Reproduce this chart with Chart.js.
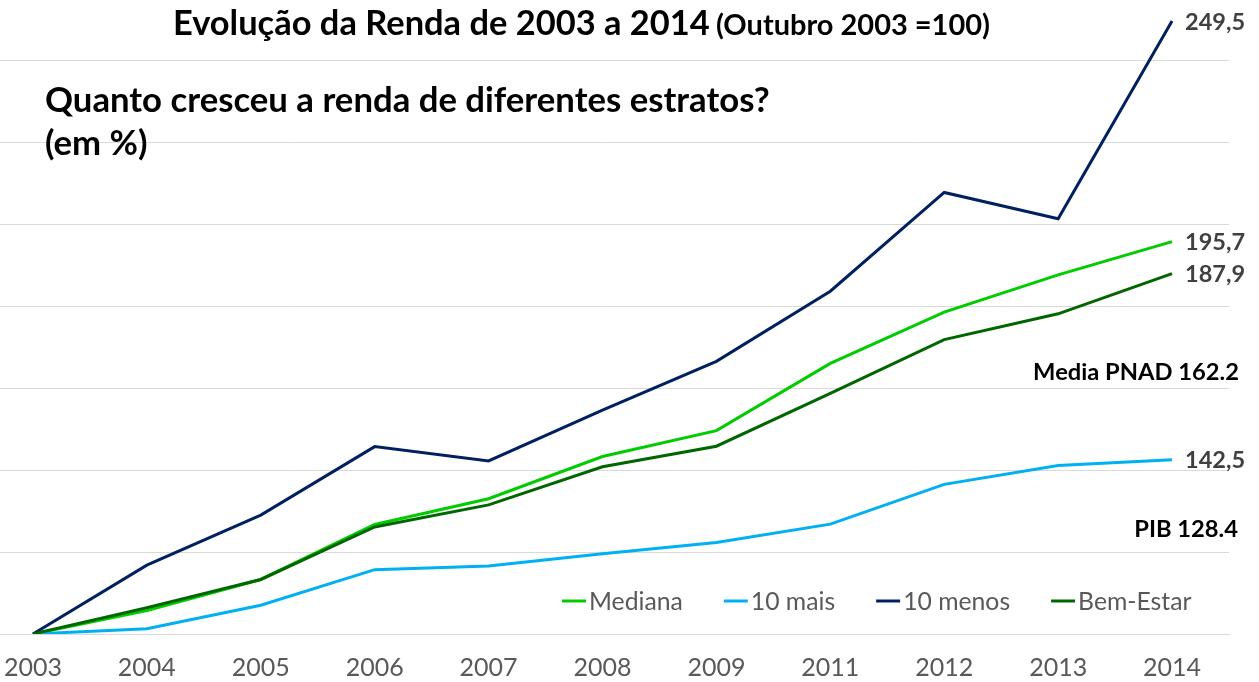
<!DOCTYPE html>
<html>
<head>
<meta charset="utf-8">
<script src="https://cdn.jsdelivr.net/npm/chart.js@4.4.1/dist/chart.umd.min.js"></script>
<style>
  html, body { margin: 0; padding: 0; background: #fff; overflow: hidden; }
  #wrap { position: relative; width: 1259px; height: 682px; overflow: hidden; }
  #wrap canvas { position: absolute; left: -24px; top: -22px; }
</style>
</head>
<body>
<div id="wrap"><canvas id="rendaChart" width="1283" height="716"></canvas></div>
<script>
const anos = ["2003", "2004", "2005", "2006", "2007", "2008", "2009", "2011", "2012", "2013", "2014"];
const mediana = [100, 105.7, 113.3, 126.7, 133.0, 143.3, 149.6, 166.0, 178.5, 187.6, 195.7];
const dezMais = [100, 101.3, 107.0, 115.7, 116.6, 119.6, 122.3, 126.8, 136.5, 141.1, 142.5];
const dezMenos = [100, 116.8, 129.0, 145.7, 142.2, 154.6, 166.5, 183.6, 207.7, 201.3, 249.5];
const bemEstar = [100, 106.4, 113.3, 126.1, 131.5, 140.8, 145.8, 158.7, 171.8, 178.1, 187.9];

const seriesNames = ["Mediana", "10 mais", "10 menos", "Bem-Estar"];
const seriesColors = ["#00CC00", "#00B0F0", "#002060", "#006600"];

const titulo = "Evolução da Renda de 2003 a 2014";
const tituloNota = "(Outubro 2003 =100)";
const pergunta = ["Quanto cresceu a renda de diferentes estratos?", "(em %)"];
const notas = ["Media PNAD 162.2", "PIB 128.4"];

// canvas is shifted so the plot runs past the left/top edges like the original
const SHIFT_X = 24;
const SHIFT_Y = 22;
const FONT = "Lato, 'Open Sans', sans-serif";

// font size that makes text reach a given width
function fitSize(ctx, text, weight, width) {
  ctx.font = weight + " 100px " + FONT;
  return 100 * width / ctx.measureText(text).width;
}

const textosPlugin = {
  id: "textos",
  afterDraw(chart) {
    const ctx = chart.ctx;

    // value labels at the end of each line
    ctx.save();
    ctx.font = "bold 23.5px " + FONT;
    ctx.fillStyle = "#404040";
    ctx.textBaseline = "middle";
    ctx.textAlign = "left";
    chart.data.datasets.forEach((ds, i) => {
      const meta = chart.getDatasetMeta(i);
      const pt = meta.data[meta.data.length - 1];
      const v = ds.data[ds.data.length - 1];
      ctx.fillText(v.toFixed(1).replace(".", ","), pt.x + 13, pt.y + 1);
    });
    ctx.restore();

    ctx.save();
    ctx.translate(SHIFT_X, SHIFT_Y);
    ctx.fillStyle = "#000";
    ctx.textBaseline = "alphabetic";

    // title, big part + smaller note
    const s1 = fitSize(ctx, titulo, "bold", 537);
    const s2 = fitSize(ctx, tituloNota, "bold", 274);
    ctx.font = "bold " + s1 + "px " + FONT;
    ctx.fillText(titulo, 173, 35);
    ctx.font = "bold " + s2 + "px " + FONT;
    ctx.fillText(tituloNota, 716, 35);

    // question on the left
    const s3 = fitSize(ctx, pergunta[0], "bold", 725);
    ctx.font = "bold " + s3 + "px " + FONT;
    ctx.fillText(pergunta[0], 45, 112);
    ctx.fillText(pergunta[1], 45, 155);

    // notes on the right
    ctx.textAlign = "right";
    ctx.textBaseline = "middle";
    const s4 = fitSize(ctx, notas[0], "bold", 206);
    ctx.font = "bold " + s4 + "px " + FONT;
    ctx.fillText(notas[0], 1239, 372);
    ctx.fillText(notas[1], 1238, 529);

    // legend inside the plot
    ctx.textAlign = "left";
    const s5 = fitSize(ctx, "10 menos", "normal", 107);
    ctx.font = s5 + "px " + FONT;
    let x = 562;
    const y = 601;
    chart.data.datasets.forEach((ds) => {
      ctx.strokeStyle = ds.borderColor;
      ctx.lineWidth = 3;
      ctx.beginPath();
      ctx.moveTo(x, y);
      ctx.lineTo(x + 24, y);
      ctx.stroke();
      ctx.fillStyle = "#595959";
      ctx.fillText(ds.label, x + 27, y + 1);
      x += 27 + ctx.measureText(ds.label).width + 41;
    });
    ctx.restore();
  },
};

const ctxRenda = document.getElementById("rendaChart");
const allData = [mediana, dezMais, dezMenos, bemEstar];

new Chart(ctxRenda, {
  type: "line",
  data: {
    labels: anos,
    datasets: allData.map((d, i) => ({
      label: seriesNames[i],
      data: d,
      borderColor: seriesColors[i],
      backgroundColor: seriesColors[i],
      borderWidth: 3,
      pointRadius: 0,
      tension: 0,
      order: 4 - i,
    })),
  },
  options: {
    responsive: false,
    animation: false,
    layout: { padding: { left: 0, right: 30, top: 0, bottom: 0 } },
    plugins: {
      legend: { display: false },
      title: { display: false },
      tooltip: { enabled: false },
    },
    scales: {
      x: {
        offset: true,
        grid: { display: false },
        border: { color: "#D9D9D9" },
        ticks: {
          color: "#595959",
          font: { family: FONT, size: 25 },
          padding: 11,
          maxRotation: 0,
          autoSkip: false,
        },
      },
      y: {
        min: 100,
        max: 260,
        border: { display: false },
        grid: { color: "#D9D9D9", lineWidth: 1, drawTicks: false, tickLength: 0 },
        ticks: { display: false, stepSize: 20 },
      },
    },
  },
  plugins: [textosPlugin],
});
</script>
</body>
</html>
